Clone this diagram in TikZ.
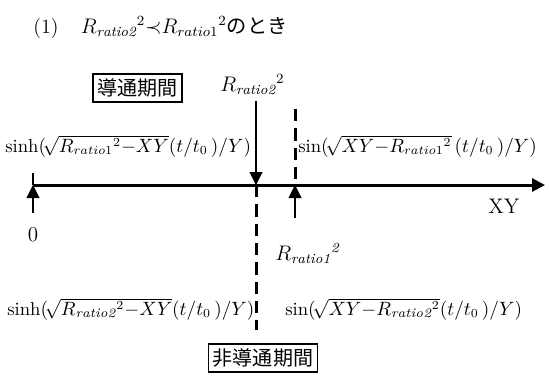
\documentclass[tikz,border=0pt]{standalone}
\usepackage{amsmath, amssymb}
\usepackage{fontspec}
\newfontfamily\jp{Noto Sans CJK JP}
\usetikzlibrary{positioning, arrows.meta}

\begin{document}
\begin{tikzpicture}[
	every node/.style={font=\fontsize{12}{14}\selectfont, inner sep=0pt},
	shiki/.style={anchor=base west, font=\fontsize{10.6}{13}\selectfont},
	kikan/.style={draw, line width=1.1pt, inner sep=2.5pt, font=\jp\fontsize{11.4}{13}\selectfont},
	jiku/.style={line width=1.7pt, -{Triangle[length=2.6mm,width=2.6mm]}},
	ya/.style={line width=0.6pt, -{Triangle[length=2.6mm,width=2.6mm]}},
	hasen/.style={line width=1.7pt, dash pattern=on 7pt off 4pt}
	]
	\useasboundingbox (0,0) rectangle (10.98,7.52);
	% 見出し
	\node[anchor=base west, font=\fontsize{11.5}{14}\selectfont] (title) at (0.66,6.86)
		{(1)\hspace{1.1em}$R_{\mathit{ratio2}}{}^{2}{\prec}R_{ratio1}{}^{2}$\jp のとき};
	% 横軸
	\coordinate (o) at (0.66,3.82);
	\coordinate (p2) at (5.12,3.82);
	\coordinate (p1) at (5.9,3.82);
	\coordinate (e) at (10.9,3.82);
	\draw[jiku] (o) -- (e);
	\node[anchor=base west] (xy) at (9.76,3.26) {XY};
	% 原点
	\coordinate (t0) at (0.66,4.06);
	\coordinate (a0) at (0.66,3.26);
	\draw[line width=0.6pt] (t0) -- (o);
	\draw[ya] (a0) -- (o);
	\node (zero) at (0.66,2.82) {0};
	% 上側
	\node[kikan] (dotu) at (2.75,5.76) {導通期間};
	\node[anchor=base west] (r2) at (4.4,5.7) {$R_{\mathit{ratio2}}{}^{2}$};
	\coordinate (s2) at (5.12,5.5);
	\draw[ya] (s2) -- (p2);
	\coordinate (d1) at (5.9,5.34);
	\draw[hasen] (d1) -- (p1);
	\node[shiki] (sh1) at (0.1,4.48)
		{$\sinh(\!\sqrt{R_{ratio1}{}^{2}{-}XY}(t/t_0\,)/Y)$};
	\node[shiki] (sn1) at (5.96,4.48)
		{$\sin(\!\sqrt{XY{-}R_{ratio1}{}^{2}}\,(t/t_0\,)/Y)$};
	% 下側
	\coordinate (d2) at (5.12,0.92);
	\draw[hasen] (p2) -- (d2);
	\coordinate (a1) at (5.9,3.16);
	\draw[ya] (a1) -- (p1);
	\node[anchor=base west] (r1) at (5.5,2.32) {$R_{\mathit{ratio1}}{}^{\mathit{2}}$};
	\node[shiki] (sh2) at (0.14,1.22)
		{$\sinh(\!\sqrt{R_{\mathit{ratio2}}{}^{2}{-}XY}(t/t_0\,)/Y)$};
	\node[shiki] (sn2) at (5.7,1.22)
		{$\sin(\!\sqrt{XY{-}R_{\mathit{ratio2}}{}^{2}}(t/t_0\,)/Y)$};
	\node[kikan] (hidotu) at (5.26,0.36) {非導通期間};
\end{tikzpicture}
\end{document}
